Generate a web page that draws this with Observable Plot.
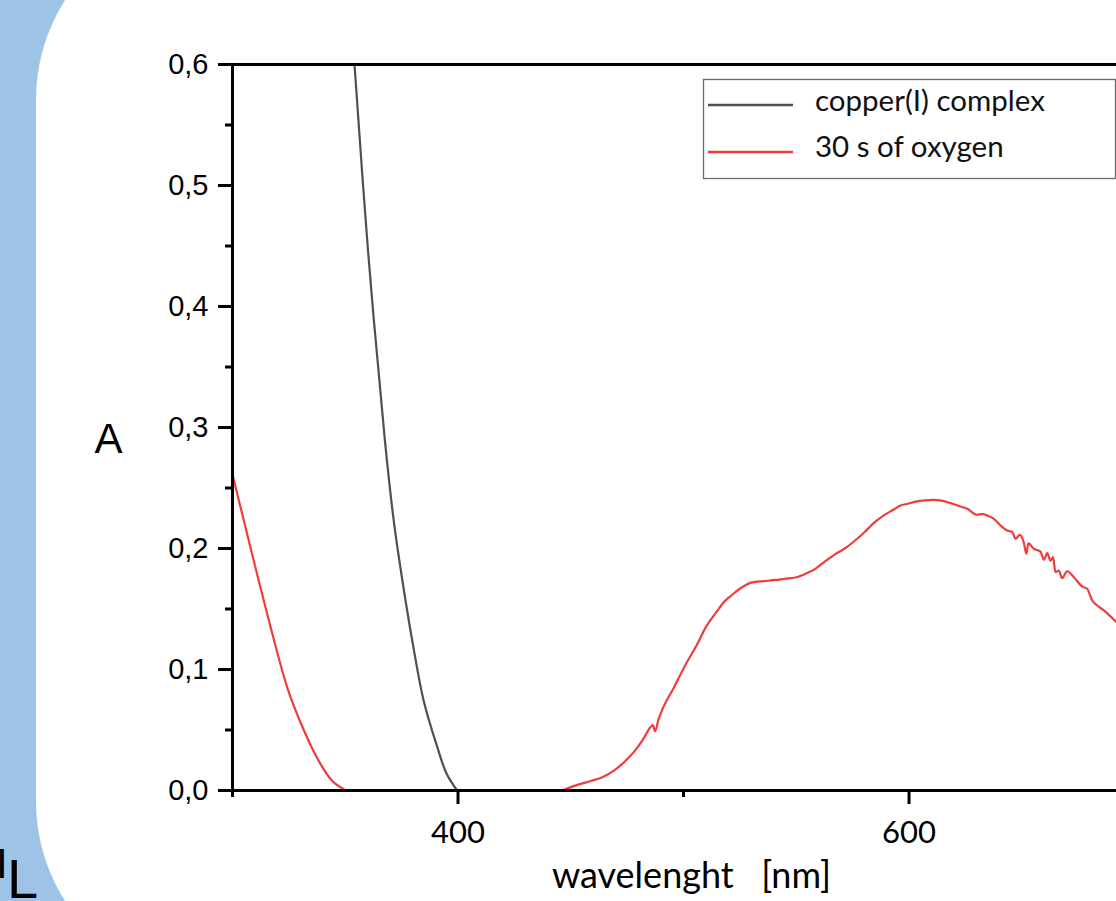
<!DOCTYPE html>
<html>
<head>
<meta charset="utf-8">
<script src="https://cdn.jsdelivr.net/npm/d3@7"></script>
<script src="https://cdn.jsdelivr.net/npm/@observablehq/plot@0.6"></script>
<style>
html, body { margin: 0; padding: 0; width: 1116px; height: 901px; overflow: hidden; background: #9dc3e6; }
#card { position: absolute; left: 36px; top: -87px; width: 3000px; height: 1075px; background: #fff; border-radius: 187px; }
#chart { position: absolute; left: 0; top: 0; }
#overlay { position: absolute; left: 0; top: 0; pointer-events: none; }
</style>
</head>
<body>
<div id="card"></div>
<div id="chart"></div>
<svg id="overlay" width="1116" height="901"></svg>
<script>
// ---- data ----
const seriesNames = ["copper(I) complex", "30 s of oxygen"];
const seriesColors = ["#505050", "#f03c3c"];

const copperWavelength = [354.1, 360.1, 367.6, 371.5, 375.3, 379.7, 384.8, 390.8, 394.9, 399.6];
const copperAbsorbance = [0.600, 0.446, 0.289, 0.223, 0.174, 0.124, 0.074, 0.036, 0.014, 0.000];

const oxygenWavelength = [
  300.0, 309.4, 316.9, 324.3, 331.6, 339.0, 344.2, 349.4,
  null,
  446.1, 452.0, 459.1, 464.0, 469.6, 474.0, 478.3, 482.0, 485.2, 486.4, 487.4, 488.8, 490.4,
  495.7, 500.9, 506.1, 509.6, 514.8, 518.0, 521.7, 526.0, 530.4, 535.5, 540.9, 545.0, 549.6,
  554.0, 558.3, 562.5, 567.0, 571.5, 575.7, 580.0, 584.3, 588.5, 593.0, 596.2, 599.5, 603.6,
  607.0, 611.0, 614.5, 618.4, 622.8, 625.8, 630.2, 632.5, 634.7, 637.6, 640.6, 643.5, 645.8,
  647.2, 649.1, 650.9, 652.0, 652.9, 655.4, 658.3, 659.8, 661.3, 662.7, 663.9, 664.9, 666.4,
  667.9, 670.1, 673.1, 676.8, 679.0, 681.2, 683.5, 686.4, 692.0
];
const oxygenAbsorbance = [
  0.261, 0.190, 0.135, 0.085, 0.050, 0.022, 0.008, 0.001,
  null,
  0.000, 0.004, 0.008, 0.011, 0.017, 0.024, 0.0325, 0.042, 0.052, 0.054, 0.049, 0.058, 0.066,
  0.085, 0.104, 0.121, 0.134, 0.148, 0.156, 0.162, 0.168, 0.172, 0.173, 0.174, 0.175, 0.176,
  0.179, 0.183, 0.189, 0.195, 0.200, 0.206, 0.213, 0.221, 0.227, 0.232, 0.2355, 0.237, 0.239,
  0.2398, 0.2402, 0.2395, 0.2375, 0.2347, 0.2328, 0.2278, 0.2285, 0.2273, 0.2245, 0.219, 0.2149, 0.2135,
  0.208, 0.2113, 0.205, 0.1956, 0.2043, 0.1997, 0.1975, 0.1907, 0.1961, 0.190, 0.1928, 0.1804, 0.1818,
  0.1755, 0.1812, 0.1763, 0.1686, 0.1667, 0.157, 0.1529, 0.1488, 0.139
];

const xDomain = [300, 692];
const yDomain = [0, 0.6];
const xMajorTicks = [400, 600];
const xMinorTicks = [300, 500];
const yMajorTicks = [0, 0.1, 0.2, 0.3, 0.4, 0.5, 0.6];
const yMinorTicks = [0.05, 0.15, 0.25, 0.35, 0.45, 0.55];
const xLabel = "wavelenght   [nm]";
const yLabel = "A";
const cornerText = ["I", "L"];

// ---- tables ----
const copperRows = copperWavelength.map((w, i) => ({w, a: copperAbsorbance[i]}));
const oxygenRows = oxygenWavelength.map((w, i) => ({w, a: oxygenAbsorbance[i]}));

const fmtY = d => d.toFixed(1).replace(".", ",");

const chart = Plot.plot({
  width: 1116,
  height: 901,
  marginLeft: 232,
  marginRight: 0,
  marginTop: 64,
  marginBottom: 111,
  style: {background: "transparent", overflow: "visible", color: "black"},
  x: {domain: xDomain},
  y: {domain: yDomain},
  marks: [
    Plot.line(copperRows, {x: "w", y: "a", stroke: seriesColors[0], strokeWidth: 2.2, curve: "catmull-rom"}),
    Plot.line(oxygenRows, {x: "w", y: "a", stroke: seriesColors[1], strokeWidth: 2.2, curve: "monotone-x"}),
    Plot.ruleX([xDomain[0]], {strokeWidth: 3}),
    Plot.ruleY(yDomain, {strokeWidth: 3}),
    Plot.axisX({ticks: xMajorTicks, tickSize: 14, tickPadding: 16, strokeWidth: 3, fontSize: 31, fontFamily: "Lato", tickFormat: d => String(d), label: null}),
    Plot.axisX({ticks: xMinorTicks, tickSize: 7, strokeWidth: 3, tickFormat: () => "", label: null}),
    Plot.axisY({ticks: yMajorTicks, tickSize: 14, tickPadding: 10, strokeWidth: 3, fontSize: 29, fontFamily: "Liberation Sans", tickFormat: fmtY, label: null}),
    Plot.axisY({ticks: yMinorTicks, tickSize: 7, strokeWidth: 3, tickFormat: () => "", label: null}),
    Plot.text([yLabel], {frameAnchor: "left", textAnchor: "middle", dx: -124, dy: 12, fontSize: 42, fontFamily: "Liberation Sans", fill: "black"}),
    Plot.text([xLabel], {frameAnchor: "bottom", textAnchor: "middle", dx: 17, dy: 97, fontSize: 36, fontFamily: "Lato", fill: "black"})
  ]
});
document.getElementById("chart").appendChild(chart);

// ---- legend and corner text ----
const ov = d3.select("#overlay");
ov.append("rect").attr("x", 703.5).attr("y", 79.5).attr("width", 412).attr("height", 99)
  .attr("fill", "white").attr("stroke", "#6a6a6a").attr("stroke-width", 1.3);
seriesNames.forEach((name, i) => {
  const yLine = 105 + i * 47;
  ov.append("line").attr("x1", 708).attr("x2", 793).attr("y1", yLine).attr("y2", yLine)
    .attr("stroke", seriesColors[i]).attr("stroke-width", 2.6);
  ov.append("text").attr("x", 815).attr("y", 111 + i * 46).text(name)
    .attr("font-family", "Lato").attr("font-size", 29.5).attr("fill", "#111");
});
ov.append("text").attr("x", -4).attr("y", 878).text(cornerText[0])
  .attr("font-family", "Liberation Sans").attr("font-size", 42).attr("fill", "black");
ov.append("text").attr("x", 7).attr("y", 898).text(cornerText[1])
  .attr("font-family", "Liberation Sans").attr("font-size", 56).attr("fill", "black");
</script>
</body>
</html>
